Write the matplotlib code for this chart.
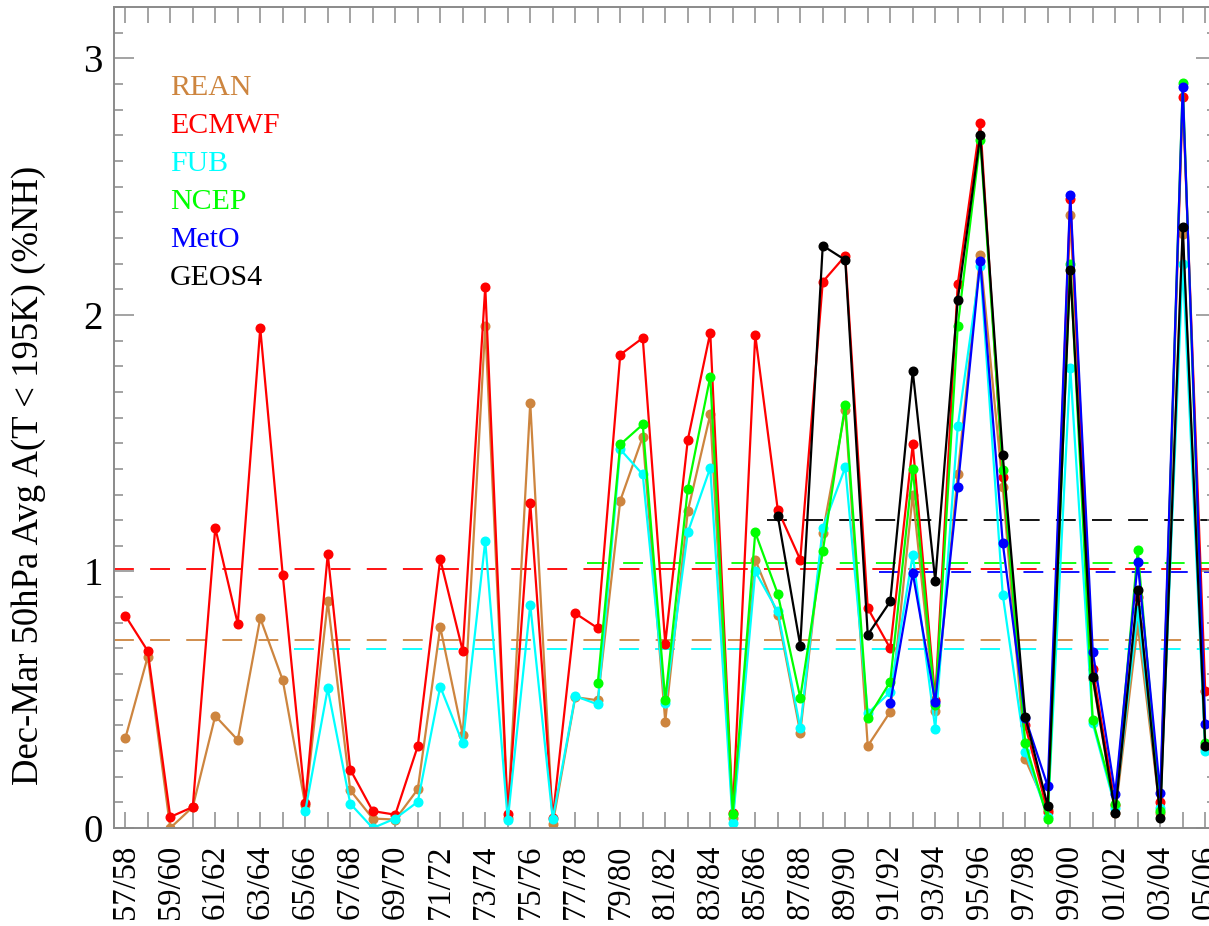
import matplotlib
matplotlib.use("Agg")
import matplotlib.pyplot as plt
import numpy as np
from matplotlib.ticker import MultipleLocator

# ---------------------------------------------------
# Datos, inviernos 57/58 .. 05/06
# ---------------------------------------------------
seasons = [f"{y % 100:02d}/{(y + 1) % 100:02d}" for y in range(1957, 2006)]

rean = [0.349, 0.668, 0.0, 0.082, 0.437, 0.343, 0.818, 0.576, 0.09, 0.883,
        0.147, 0.037, 0.033, 0.151, 0.783, 0.362, 1.957, 0.04, 1.658, 0.017,
        0.51, 0.498, 1.276, 1.525, 0.414, 1.234, 1.612, 0.04, 1.046, 0.83,
        0.372, 1.15, 1.63, 0.32, 0.453, 1.3, 0.457, 1.38, 2.233, 1.33,
        0.268, 0.07, 2.39, 0.58, 0.057, 0.79, 0.06, 2.315, 0.31]
ecmwf = [0.828, 0.69, 0.043, 0.082, 1.17, 0.796, 1.948, 0.986, 0.099, 1.068,
         0.228, 0.066, 0.052, 0.319, 1.048, 0.69, 2.11, 0.056, 1.267, 0.04,
         0.837, 0.779, 1.845, 1.91, 0.718, 1.512, 1.931, 0.06, 1.922, 1.241,
         1.046, 2.129, 2.23, 0.857, 0.70, 1.495, 0.5, 2.12, 2.747, 1.37,
         0.4, 0.062, 2.45, 0.62, 0.088, 0.9, 0.1, 2.85, 0.534]
fub = [0.066, 0.544, 0.095, 0.0, 0.037, 0.102, 0.551, 0.33, 1.119, 0.03,
       0.87, 0.035, 0.514, 0.482, 1.476, 1.378, 0.486, 1.152, 1.404, 0.02,
       1.0, 0.844, 0.39, 1.169, 1.406, 0.447, 0.53, 1.065, 0.386, 1.566,
       2.19, 0.909, 0.297, 0.043, 1.794, 0.408, 0.08, 0.85, 0.08, 2.2, 0.3]
ncep = [0.564, 1.495, 1.573, 0.499, 1.322, 1.759, 0.056, 1.152, 0.913, 0.508,
        1.078, 1.65, 0.427, 0.57, 1.401, 0.48, 1.957, 2.68, 1.395, 0.332,
        0.034, 2.2, 0.42, 0.094, 1.082, 0.066, 2.905, 0.33]
meto = [0.488, 0.994, 0.492, 1.328, 2.211, 1.111, 0.43, 0.163, 2.468, 0.6875,
        0.134, 1.035, 0.137, 2.888, 0.405]
geos4 = [1.218, 0.711, 2.27, 2.214, 0.753, 0.883, 1.781, 0.964, 2.06, 2.70,
         1.453, 0.434, 0.086, 2.176, 0.5875, 0.06, 0.926, 0.04, 2.341, 0.32]

# indice del primer invierno de cada serie (0 = 57/58)
series = [
    ("REAN", rean, 0, "#CD853F"),
    ("ECMWF", ecmwf, 0, "#FF0000"),
    ("FUB", fub, 8, "#00FFFF"),
    ("NCEP", ncep, 21, "#00FF00"),
    ("MetO", meto, 34, "#0000FF"),
    ("GEOS4", geos4, 29, "#000000"),
]

# ---------------------------------------------------
# Grafico
# ---------------------------------------------------
plt.rcParams["font.family"] = ["Liberation Serif", "DejaVu Serif"]
gris = "#8a8a8a"

fig = plt.figure(figsize=(12.09, 9.26), dpi=100)
ax = fig.add_axes([0.0943, 0.1058, 0.9119, 0.8866])

# medias (lineas discontinuas)
for nombre, vals, ini, col in series:
    m = np.mean(vals)
    ax.plot([ini - 0.5, ini + len(vals) - 0.5], [m, m], color=col, lw=1.3,
            dashes=(11, 9), zorder=1)

for nombre, vals, ini, col in series:
    x = np.arange(ini, ini + len(vals))
    ax.plot(x, vals, "-o", color=col, lw=1.6, ms=6.2, zorder=2)

for k, (nombre, vals, ini, col) in enumerate(series):
    ax.text(0.051, 0.901 - 0.0463 * k, nombre, color=col, fontsize=21.5,
            transform=ax.transAxes, va="center", ha="left")

ax.set_xlim(-0.5, 48.5)
ax.set_ylim(0, 3.2)

ax.set_xticks(np.arange(len(seasons)))
ax.set_xticklabels([s if i % 2 == 0 else "" for i, s in enumerate(seasons)],
                   rotation=90, fontsize=23.5)
ax.set_yticks([0, 1, 2, 3])
ax.set_yticklabels(["0", "1", "2", "3"], fontsize=28)
ax.yaxis.set_minor_locator(MultipleLocator(0.1))

ax.tick_params(axis="x", which="major", direction="in", length=11.5, width=1.1,
               color=gris, top=True, pad=12)
ax.tick_params(axis="y", which="major", direction="in", length=14.5, width=1.1,
               color=gris, right=True, pad=8)
ax.tick_params(axis="y", which="minor", direction="in", length=6.5, width=1.1,
               color=gris, right=True)

for s in ax.spines.values():
    s.set_color(gris)
    s.set_linewidth(1.4)

ax.set_ylabel("Dec-Mar 50hPa Avg A(T < 195K) (%NH)", fontsize=26.5)
ax.yaxis.set_label_coords(-0.062, 0.43)

fig.savefig("out.png", dpi=100)
